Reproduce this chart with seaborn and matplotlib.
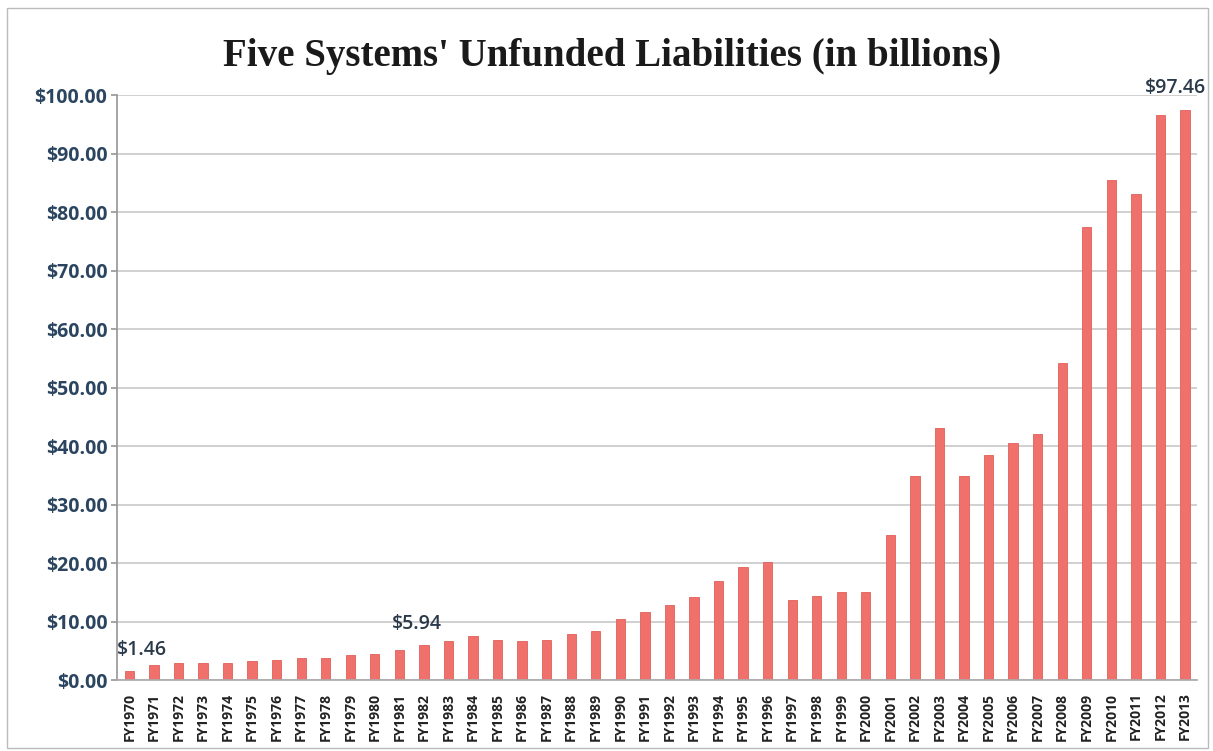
import numpy as np
import pandas as pd
import seaborn as sns
import matplotlib.pyplot as plt
from matplotlib.patches import Rectangle

sns.set_theme(style='white')
plt.rcParams['font.family'] = ['Open Sans', 'DejaVu Sans']

years = ['FY%d' % y for y in range(1970, 2014)]
values = [1.46, 2.6, 2.9, 2.85, 2.9, 3.2, 3.4, 3.7, 3.7, 4.2,
          4.5, 5.1, 5.94, 6.7, 7.6, 6.9, 6.6, 6.9, 7.8, 8.3,
          10.4, 11.7, 12.8, 14.2, 17.0, 19.4, 20.1, 13.6, 14.4, 15.1,
          15.1, 24.8, 34.9, 43.0, 34.9, 38.4, 40.5, 42.1, 54.2, 77.5,
          85.4, 83.0, 96.6, 97.46]
labelled = {'FY1970': '$1.46', 'FY1982': '$5.94', 'FY2013': '$97.46'}

df = pd.DataFrame({'Year': years, 'Liability': values})

fig = plt.figure(figsize=(12.13, 7.51), dpi=100)
ax = fig.add_axes([0.0965, 0.0945, 0.8905, 0.779])

sns.barplot(x='Year', y='Liability', data=df, ax=ax, color='#f0706c',
            width=0.38, edgecolor='#e0605a', linewidth=0.6, saturation=1)

ax.set_ylim(0, 100)
ax.set_xlim(-0.5, len(years) - 0.5)
ax.set_yticks(np.arange(0, 101, 10))
ax.set_yticklabels(['$%.2f' % v for v in np.arange(0, 101, 10)],
                   fontsize=14, fontweight='bold', color='#2b4560')
ax.set_xticks(range(len(years)))
ax.set_xticklabels(years, rotation=90, fontsize=10, fontweight='bold', color='#222222')
ax.set_xlabel('')
ax.set_ylabel('')
ax.yaxis.grid(True, color='#c8c8c8', linewidth=1.2)
ax.set_axisbelow(True)
for s in ['top', 'right']:
    ax.spines[s].set_visible(False)
ax.spines['left'].set_color('#999999')
ax.spines['bottom'].set_color('#aaaaaa')
ax.tick_params(axis='y', left=True, length=4, color='#999999', pad=3)
ax.tick_params(axis='x', bottom=False, pad=3)

offsets = {'FY1970': 0.5, 'FY1982': -0.3, 'FY2013': -0.4}
for i, (yr, v) in enumerate(zip(years, values)):
    if yr in labelled:
        ax.text(i + offsets[yr], v + 2.0, labelled[yr], ha='center', va='bottom',
                fontsize=14, fontweight='semibold', color='#2b3a4a')

fig.text(0.505, 0.925, "Five Systems' Unfunded Liabilities (in billions)",
         ha='center', va='center', fontsize=28, fontweight='bold',
         family=['Liberation Serif', 'DejaVu Serif'], color='#1a1a1a')

fig.patches.append(Rectangle((0.006, 0.004), 0.99, 0.985, transform=fig.transFigure,
                             fill=False, edgecolor='#bbbbbb', linewidth=1))

fig.savefig('out.png', dpi=100)
